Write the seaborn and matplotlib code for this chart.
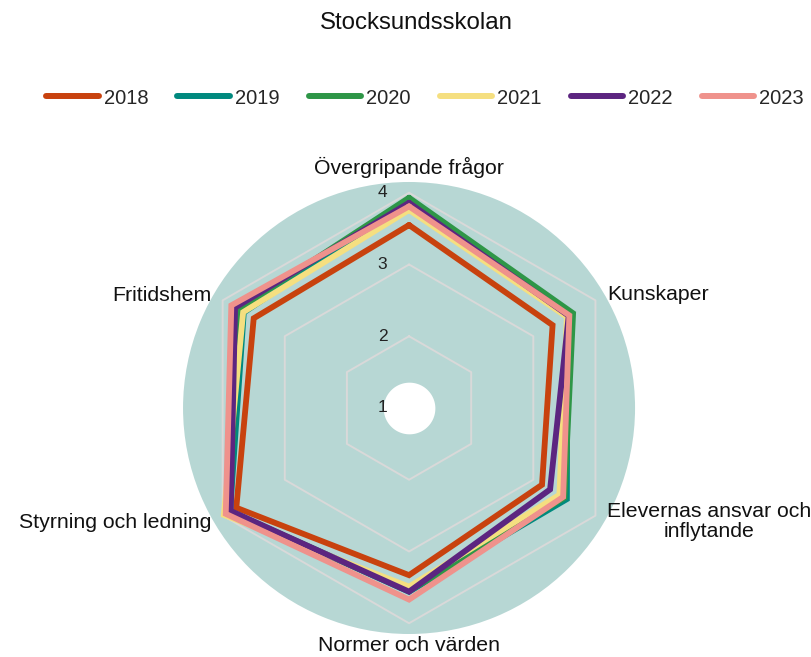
import numpy as np
import pandas as pd
import seaborn as sns
import matplotlib.pyplot as plt
from matplotlib.lines import Line2D

# Chart data
title = "Stocksundsskolan"
categories = ["Övergripande frågor", "Kunskaper", "Elevernas ansvar och\ninflytande",
              "Normer och värden", "Styrning och ledning", "Fritidshem"]
years = ["2018", "2019", "2020", "2021", "2022", "2023"]
v2018 = [3.55, 3.31, 3.14, 3.33, 3.78, 3.50]
v2019 = [3.88, 3.55, 3.54, 3.56, 3.88, 3.66]
v2020 = [3.93, 3.64, 3.50, 3.55, 3.89, 3.75]
v2021 = [3.76, 3.54, 3.42, 3.49, 3.98, 3.67]
v2022 = [3.86, 3.57, 3.27, 3.56, 3.87, 3.80]
v2023 = [3.81, 3.58, 3.48, 3.67, 3.95, 3.86]
grid_levels = [1, 2, 3, 4]
colors = ["#C8420E", "#00897E", "#2E9647", "#F5DF80", "#5C2580", "#EF928C"]

series = [v2018, v2019, v2020, v2021, v2022, v2023]

# Angles for each category (closing the polygon)
n = len(categories)
angles = np.linspace(0, 2 * np.pi, n, endpoint=False)
angles_closed = np.append(angles, 2 * np.pi)

# Long-format table for seaborn
rows = []
for year, vals in zip(years, series):
    vals_closed = list(vals) + [vals[0]]
    for i, (a, v) in enumerate(zip(angles_closed, vals_closed)):
        rows.append({"year": year, "order": i, "theta": a, "value": v})
df = pd.DataFrame(rows)

sns.set_theme(style="white")
plt.rcParams["font.family"] = ["Liberation Sans", "DejaVu Sans"]

fig = plt.figure(figsize=(8.12, 6.57), dpi=100)
ax = fig.add_axes([0.2254, 0.035, 0.5567, 0.688], projection="polar")
ax.set_theta_offset(np.pi / 2)
ax.set_theta_direction(-1)
ax.set_facecolor("#B7D7D4")
ax.spines["polar"].set_visible(False)

# hexagonal grid
for lvl in grid_levels[1:]:
    ax.plot(angles_closed, [lvl] * (n + 1), color="#D9D9D9", lw=1.4, zorder=1)

# white hole in the middle
hole = np.linspace(0, 2 * np.pi, 200)
ax.fill_between(hole, 1, 1.36, color="white", lw=0, zorder=1.5)

sns.lineplot(data=df, x="theta", y="value", hue="year", palette=dict(zip(years, colors)),
             hue_order=years, sort=False, estimator=None, linewidth=4.2,
             legend=False, ax=ax, zorder=3)
for line in ax.get_lines()[-len(years):]:
    line.set_solid_joinstyle("miter")

ax.set_ylim(1, 4.15)
ax.set_xticks([])
ax.set_yticks([])
ax.set_xlabel("")
ax.set_ylabel("")
ax.grid(False)

# radial tick labels
for lvl in grid_levels:
    ax.annotate(str(lvl), xy=(0, lvl), xytext=(-19, 0), textcoords="offset points",
                ha="center", va="center", fontsize=12.5, color="#222222", zorder=4)

# category labels (offsets in points from the outer grid vertex)
label_pos = [
    ((0, 18), "center", "center"),
    ((8.5, 4), "left", "center"),
    ((8.5, -4.5), "left", "center"),
    ((0, -16), "center", "center"),
    ((-8, -5), "right", "center"),
    ((-8, 3.5), "right", "center"),
]
for a, lab, (off, ha, va) in zip(angles, categories, label_pos):
    ax.annotate(lab, xy=(a, 4), xytext=off, textcoords="offset points", ha=ha, va=va,
                fontsize=15.3, color="#111111", multialignment="center",
                linespacing=1.05, annotation_clip=False)

fig.text(0.513, 1 - 23 / 657, title, ha="center", va="center", fontsize=17.3, color="#111111")

handles = [Line2D([0], [0], color=c, lw=4.3, solid_capstyle="round") for c in colors]
fig.legend(handles, years, loc="center", bbox_to_anchor=(0.5235, 1 - 98 / 657), ncol=6,
           frameon=False, fontsize=14.5, handlelength=2.6, handletextpad=0.25,
           columnspacing=1.45)

plt.savefig("out.png", dpi=100)
